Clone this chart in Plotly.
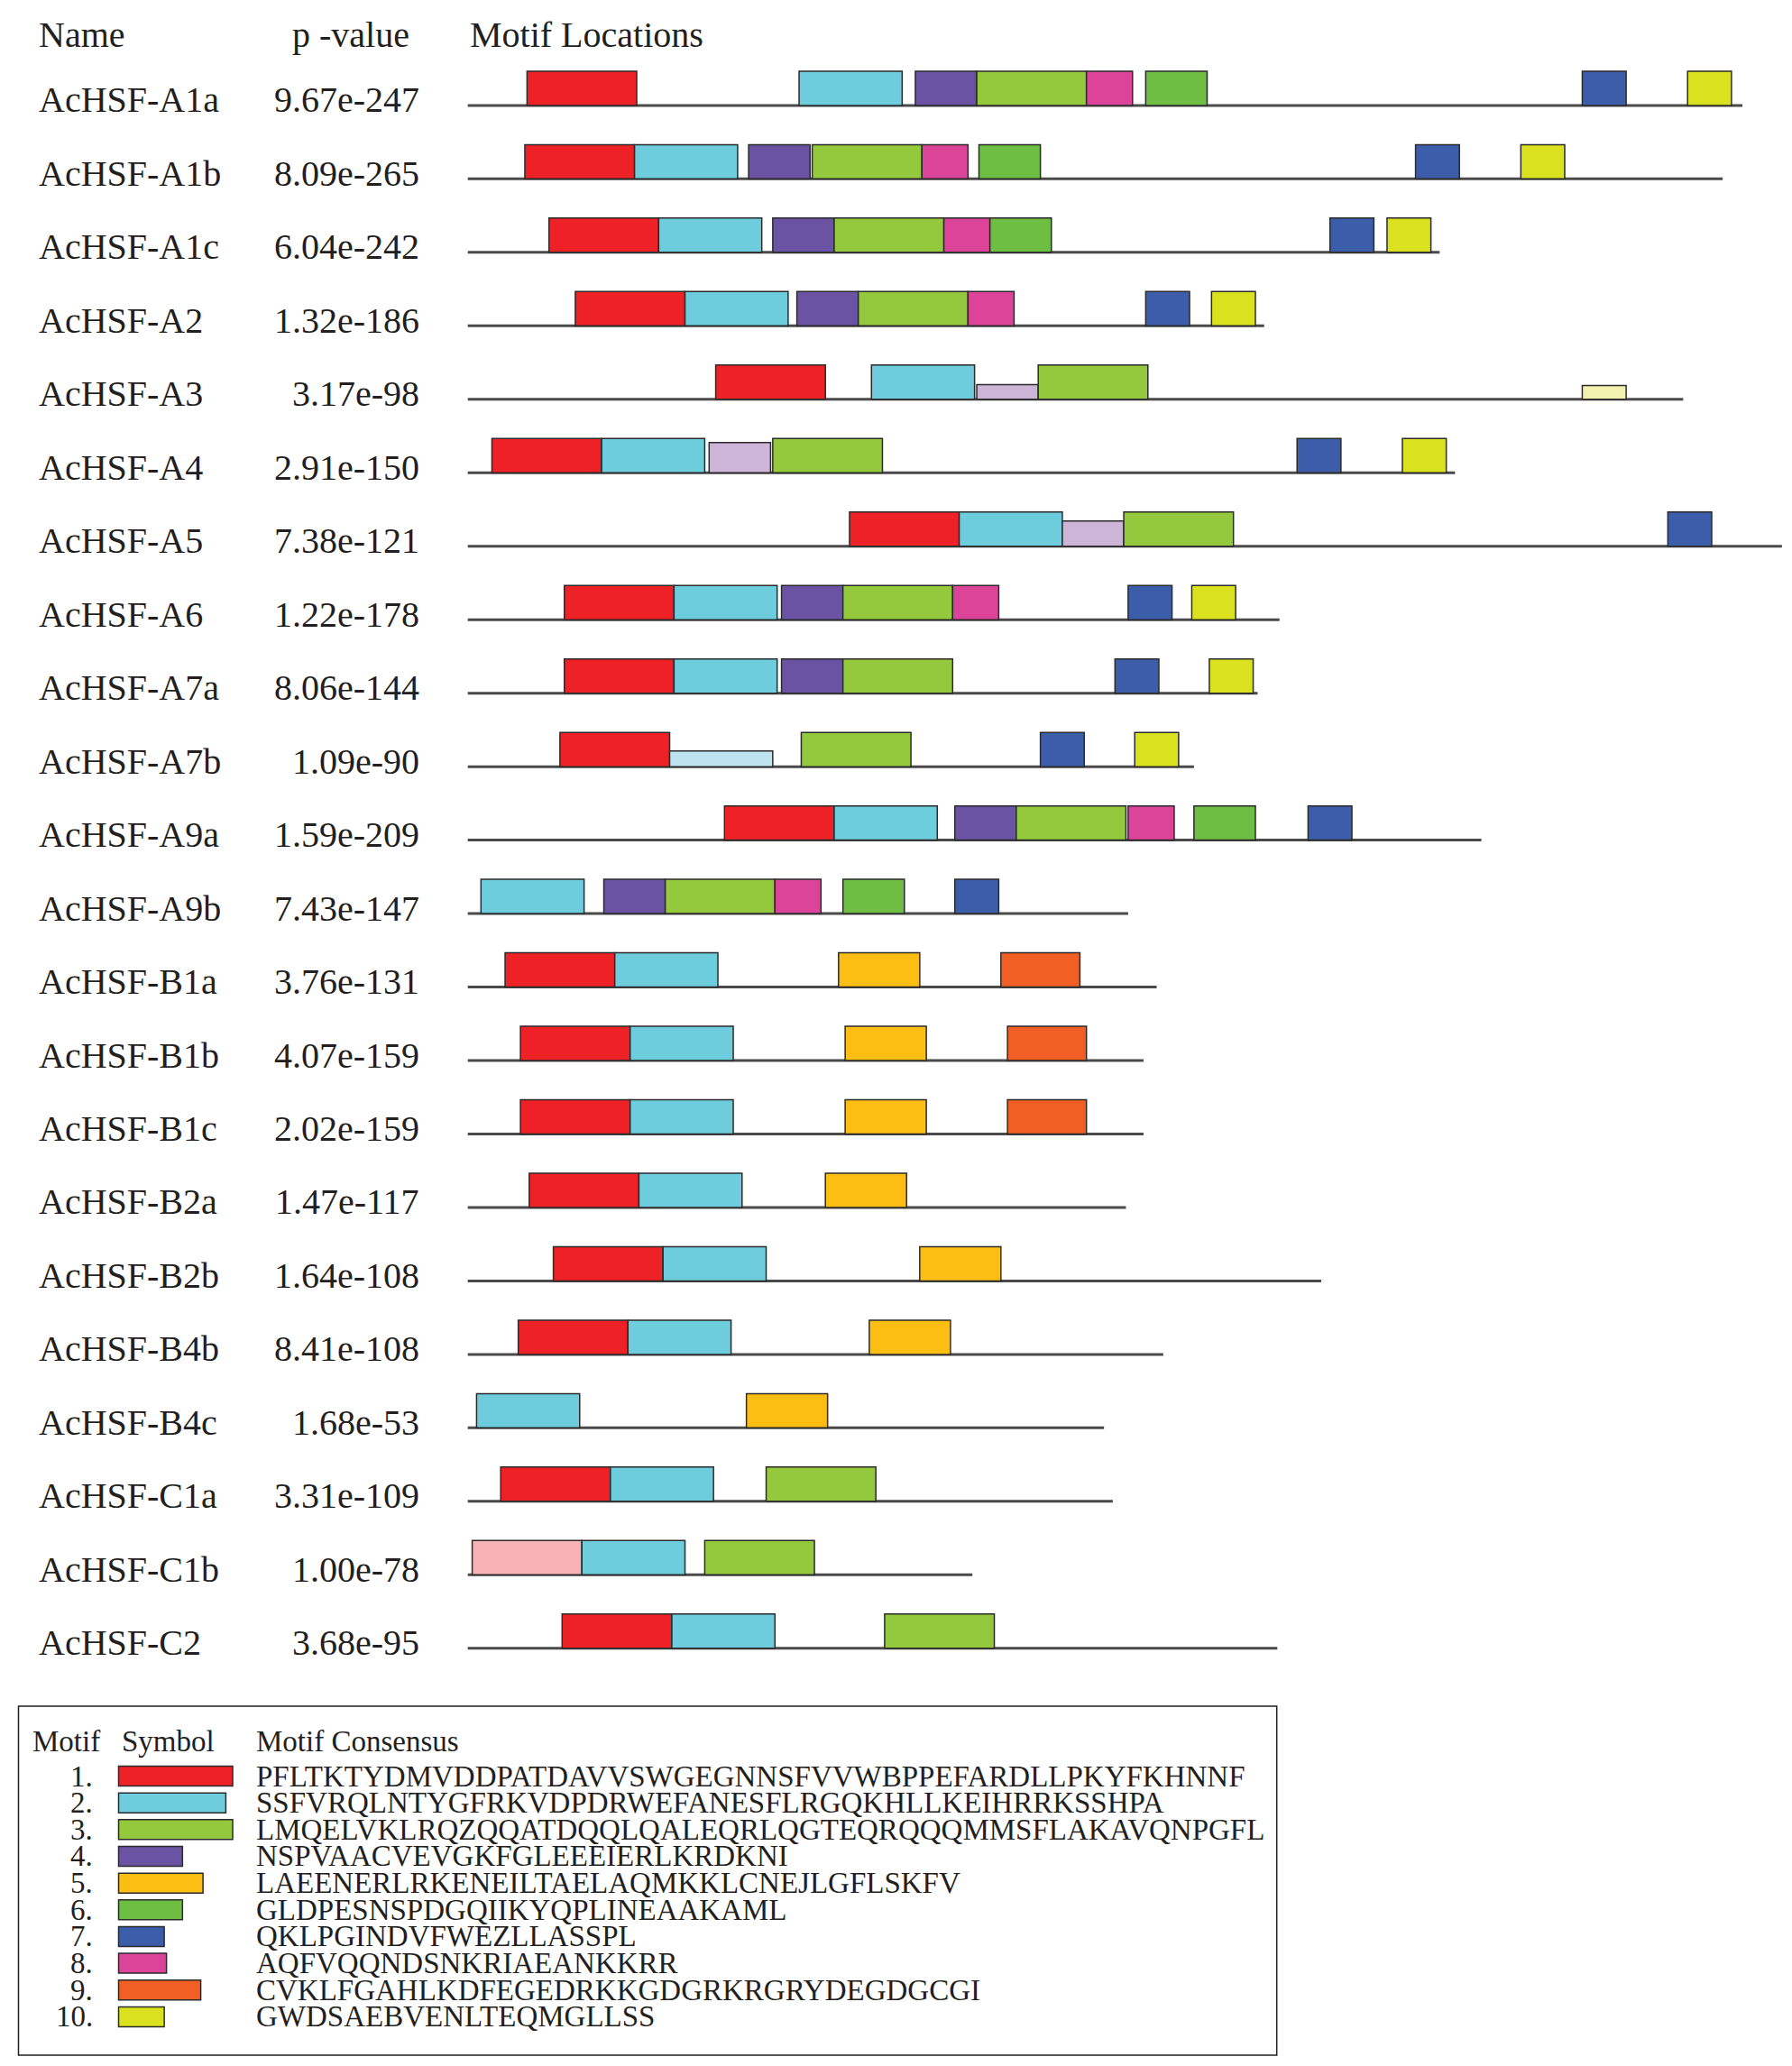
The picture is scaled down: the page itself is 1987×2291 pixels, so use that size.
import plotly.graph_objects as go

# gene names and MEME p-values
names = ["AcHSF-A1a", "AcHSF-A1b", "AcHSF-A1c", "AcHSF-A2", "AcHSF-A3", "AcHSF-A4",
         "AcHSF-A5", "AcHSF-A6", "AcHSF-A7a", "AcHSF-A7b", "AcHSF-A9a", "AcHSF-A9b",
         "AcHSF-B1a", "AcHSF-B1b", "AcHSF-B1c", "AcHSF-B2a", "AcHSF-B2b", "AcHSF-B4b",
         "AcHSF-B4c", "AcHSF-C1a", "AcHSF-C1b", "AcHSF-C2"]
pvals = ["9.67e-247", "8.09e-265", "6.04e-242", "1.32e-186", "3.17e-98", "2.91e-150",
         "7.38e-121", "1.22e-178", "8.06e-144", "1.09e-90", "1.59e-209", "7.43e-147",
         "3.76e-131", "4.07e-159", "2.02e-159", "1.47e-117", "1.64e-108", "8.41e-108",
         "1.68e-53", "3.31e-109", "1.00e-78", "3.68e-95"]
# protein lengths (aa)
seq_len = [581, 572, 443, 363, 554, 450, 599, 370, 360, 331, 462, 301,
           314, 308, 308, 300, 389, 317, 290, 294, 230, 369]

# motif hits per protein: (motif number, start aa)
hits = [
    [(1, 27), (2, 151), (4, 204), (3, 232), (8, 282), (6, 309), (7, 508), (10, 556)],
    [(1, 26), (2, 76), (4, 128), (3, 157), (8, 207), (6, 233), (7, 432), (10, 480)],
    [(1, 37), (2, 87), (4, 139), (3, 167), (8, 217), (6, 238), (7, 393), (10, 419)],
    [(1, 49), (2, 99), (4, 150), (3, 178), (8, 228), (7, 309), (10, 339)],
    [(1, 113), (2, 184), (4, 232), (3, 260), (10, 508)],
    [(1, 11), (2, 61), (4, 110), (3, 139), (7, 378), (10, 426)],
    [(1, 174), (2, 224), (4, 271), (3, 299), (7, 547)],
    [(1, 44), (2, 94), (4, 143), (3, 171), (8, 221), (7, 301), (10, 330)],
    [(1, 44), (2, 94), (4, 143), (3, 171), (7, 295), (10, 338)],
    [(1, 42), (2, 92), (3, 152), (7, 261), (10, 304)],
    [(1, 117), (2, 167), (4, 222), (3, 250), (8, 301), (6, 331), (7, 383)],
    [(2, 6), (4, 62), (3, 90), (8, 140), (6, 171), (7, 222)],
    [(1, 17), (2, 67), (5, 169), (9, 243)],
    [(1, 24), (2, 74), (5, 172), (9, 246)],
    [(1, 24), (2, 74), (5, 172), (9, 246)],
    [(1, 28), (2, 78), (5, 163)],
    [(1, 39), (2, 89), (5, 206)],
    [(1, 23), (2, 73), (5, 183)],
    [(2, 4), (5, 127)],
    [(1, 15), (2, 65), (3, 136)],
    [(1, 2), (2, 52), (3, 108)],
    [(1, 43), (2, 93), (3, 190)],
]

# weaker matches: (row index, motif) -> relative box height
weak_hits = {(4, 4): 0.43, (4, 10): 0.40, (5, 4): 0.88, (6, 4): 0.74,
             (9, 2): 0.46, (20, 1): 1.0}

motif_ids = [1, 2, 3, 4, 5, 6, 7, 8, 9, 10]
motif_len = [50, 47, 50, 28, 37, 28, 20, 21, 36, 20]
consensus = ["PFLTKTYDMVDDPATDAVVSWGEGNNSFVVWBPPEFARDLLPKYFKHNNF",
             "SSFVRQLNTYGFRKVDPDRWEFANESFLRGQKHLLKEIHRRKSSHPA",
             "LMQELVKLRQZQQATDQQLQALEQRLQGTEQRQQQMMSFLAKAVQNPGFL",
             "NSPVAACVEVGKFGLEEEIERLKRDKNI",
             "LAEENERLRKENEILTAELAQMKKLCNEJLGFLSKFV",
             "GLDPESNSPDGQIIKYQPLINEAAKAML",
             "QKLPGINDVFWEZLLASSPL",
             "AQFVQQNDSNKRIAEANKKRR",
             "CVKLFGAHLKDFEGEDRKKGDGRKRGRYDEGDGCGI",
             "GWDSAEBVENLTEQMGLLSS"]
colors = ["#EE2226", "#6DCDDC", "#94C83D", "#6B53A3", "#FDBE13",
          "#6EBE44", "#3C5DAA", "#DB4499", "#F15F25", "#DAE11E"]
pale = {1: "#F8B3B6", 2: "#BEE5EF", 4: "#CDB5D7", 10: "#F2F1B0"}

W, H = 1987, 2291
OFF = 8             # page body margin
X0 = 518.7 - OFF    # pixel where aa 0 sits
PX_AA = 2.4326      # pixels per aa
Y0 = 116.9 - OFF    # baseline of first row
STEP = 81.47        # row spacing
BOX_H = 0.466
FONT = "Liberation Serif"


def px(x):
    return (x - OFF) / W


def py(y):
    return 1 - (y - OFF) / H


def yu(y):
    return (y - OFF - Y0) / STEP


fig = go.Figure()
shapes = []
ann = []

for i, row in enumerate(hits):
    shapes.append(dict(type="line", xref="x", yref="y", x0=0, x1=seq_len[i], y0=i, y1=i,
                       line=dict(color="#4a4a4a", width=3)))
    for m, s in row:
        h = BOX_H
        c = colors[m - 1]
        if (i, m) in weak_hits:
            h = BOX_H * weak_hits[(i, m)]
            c = pale[m]
        shapes.append(dict(type="rect", xref="x", yref="y", x0=s, x1=s + motif_len[m - 1],
                           y0=i, y1=i - h, fillcolor=c,
                           line=dict(color="#2b2b2b", width=1.5)))
    yrow = 116.9 + STEP * i - 6
    ann.append(dict(text=names[i], x=px(41), y=py(yrow), xanchor="left", yanchor="middle"))
    ann.append(dict(text=pvals[i], x=px(467), y=py(yrow), xanchor="right", yanchor="middle"))

ann.append(dict(text="Name", x=px(41), y=py(38), xanchor="left", yanchor="middle"))
ann.append(dict(text="p -value", x=px(456), y=py(38), xanchor="right", yanchor="middle"))
ann.append(dict(text="Motif Locations", x=px(519), y=py(38), xanchor="left", yanchor="middle"))
for a in ann:
    a.update(xref="paper", yref="paper", showarrow=False, font=dict(family=FONT, size=40, color="#231f20"))

# legend box
shapes.append(dict(type="rect", xref="paper", yref="paper", x0=px(20.5), x1=px(1415.7),
                   y0=py(1892), y1=py(2279), line=dict(color="#231f20", width=1.5)))
leg = []
leg.append(dict(text="Motif", x=px(34), y=py(1931), xanchor="left"))
leg.append(dict(text="Symbol", x=px(133), y=py(1931), xanchor="left"))
leg.append(dict(text="Motif Consensus", x=px(282), y=py(1931), xanchor="left"))
leg_x0 = (131.5 - OFF - X0) / PX_AA
for k, m in enumerate(motif_ids):
    yc = 1969.5 + 29.66 * k
    shapes.append(dict(type="rect", xref="x", yref="y", x0=leg_x0,
                       x1=leg_x0 + motif_len[k] * 1.04, y0=yu(yc - 11), y1=yu(yc + 11),
                       fillcolor=colors[k], line=dict(color="#2b2b2b", width=1.5)))
    leg.append(dict(text=f"{m}.", x=px(105), y=py(yc), xanchor="right"))
    leg.append(dict(text=consensus[k], x=px(282), y=py(yc), xanchor="left"))
for a in leg:
    a.update(xref="paper", yref="paper", showarrow=False, yanchor="middle",
             font=dict(family=FONT, size=33, color="#231f20"))

fig.update_layout(
    width=W, height=H, margin=dict(l=0, r=0, t=0, b=0),
    paper_bgcolor="white", plot_bgcolor="white",
    shapes=shapes, annotations=ann + leg, showlegend=False,
    xaxis=dict(range=[-X0 / PX_AA, (W - X0) / PX_AA], visible=False, domain=[0, 1]),
    yaxis=dict(range=[(H - Y0) / STEP, -Y0 / STEP], visible=False, domain=[0, 1]),
)
fig.write_html("out.html")
